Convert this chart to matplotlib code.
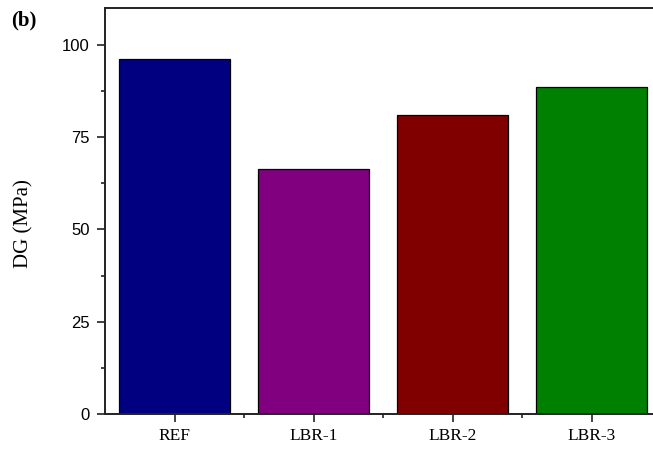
import matplotlib
matplotlib.use("Agg")
import matplotlib.pyplot as plt
from matplotlib.ticker import MultipleLocator, FixedLocator

# Data
categories = ["REF", "LBR-1", "LBR-2", "LBR-3"]
dg_values = [96.2, 66.5, 80.9, 88.5]
bar_colors = ["#000080", "#800080", "#800000", "#008000"]
y_ticks = [0, 25, 50, 75, 100]

fig = plt.figure(figsize=(6.53, 4.54), dpi=100)
ax = fig.add_axes([105 / 653, 40 / 454, 556 / 653, 406 / 454])

x = list(range(len(categories)))
ax.bar(x, dg_values, width=0.8, color=bar_colors, edgecolor="black",
       linewidth=0.9, zorder=2)

ax.set_xlim(-0.5, 3.5)
ax.set_ylim(0, 110)

ax.set_xticks(x)
ax.set_xticklabels(categories, family="Liberation Serif", fontsize=12.5)
ax.xaxis.set_minor_locator(FixedLocator([0.5, 1.5, 2.5]))

ax.yaxis.set_major_locator(FixedLocator(y_ticks))
ax.yaxis.set_minor_locator(MultipleLocator(12.5))
for lbl in ax.get_yticklabels():
    lbl.set_family("Liberation Sans")
    lbl.set_fontsize(12)

ax.tick_params(axis="both", which="major", direction="out", length=6,
               width=1.2, color="#222222")
ax.tick_params(axis="both", which="minor", direction="out", length=3,
               width=1.2, color="#222222")
ax.tick_params(axis="y", which="major", pad=5)
ax.tick_params(axis="x", which="major", pad=4)

for side in ["left", "bottom", "top", "right"]:
    ax.spines[side].set_linewidth(1.4)
    ax.spines[side].set_color("#222222")
ax.spines["right"].set_visible(False)

fig.text(24 / 653, 1 - 224 / 454, "DG (MPa)", rotation=90, ha="center",
         va="center", family="Liberation Serif", fontsize=15)
fig.text(24 / 653, 1 - 20 / 454, "(b)", ha="center", va="center",
         family="Liberation Serif", fontweight="bold", fontsize=15)

fig.savefig("out.png", dpi=100)
